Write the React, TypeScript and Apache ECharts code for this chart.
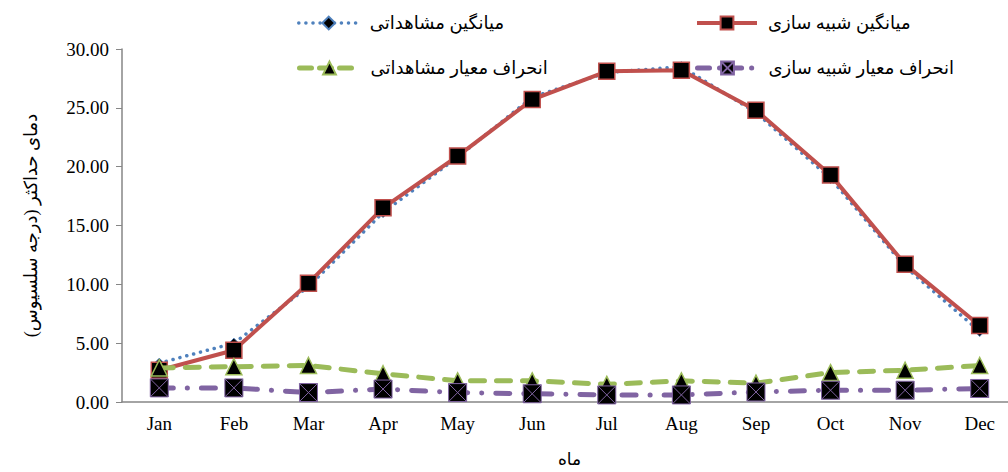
import React, { useEffect, useRef } from "react";
import * as echarts from "echarts";

const months = ["Jan", "Feb", "Mar", "Apr", "May", "Jun", "Jul", "Aug", "Sep", "Oct", "Nov", "Dec"];
const observedMean = [3.3, 5.0, 9.8, 16.1, 20.8, 25.9, 28.0, 28.5, 24.6, 19.0, 11.5, 6.0];
const simulatedMean = [2.7, 4.4, 10.1, 16.5, 20.9, 25.7, 28.1, 28.2, 24.8, 19.3, 11.7, 6.5];
const observedSD = [2.9, 3.0, 3.1, 2.4, 1.8, 1.8, 1.5, 1.8, 1.6, 2.5, 2.7, 3.1];
const simulatedSD = [1.2, 1.2, 0.8, 1.1, 0.8, 0.7, 0.6, 0.6, 0.85, 1.0, 1.0, 1.15];

const nameObsMean = "میانگین مشاهداتی";
const nameSimMean = "میانگین شبیه سازی";
const nameObsSD = "انحراف معیار مشاهداتی";
const nameSimSD = "انحراف معیار شبیه سازی";

const FONT = "'Liberation Serif', 'DejaVu Sans', serif";

export default function App() {
  const ref = useRef<HTMLDivElement>(null);
  useEffect(() => {
    if (!ref.current) return;
    const chart = echarts.init(ref.current, undefined, { renderer: "svg" });
    const boxX = "path://M0 0H10V10H0Z M0 0L10 10 M10 0L0 10";
    const legendBase = {
      orient: "horizontal",
      itemWidth: 60,
      itemHeight: 16,
      textStyle: { fontFamily: FONT, fontSize: 18, color: "#000", padding: [0, 0, 0, 6] },
    };
    const blueLine = { color: "#4F81BD", width: 3.5, type: [0.1, 7], cap: "round" };
    const redLine = { color: "#C0504D", width: 4 };
    const greenLine = { color: "#9BBB59", width: 5, type: [14, 12], cap: "round" };
    const purpleLine = { color: "#8064A2", width: 5, type: [14, 14, 0.1, 14], cap: "round" };
    chart.setOption({
      animation: false,
      textStyle: { fontFamily: FONT },
      legend: [
        { ...legendBase, left: 292, top: 9, data: [{ name: nameObsMean, lineStyle: { ...blueLine, type: [0.1, 7] } }] },
        { ...legendBase, left: 690, top: 9, data: [{ name: nameSimMean, lineStyle: redLine }] },
        { ...legendBase, left: 292, top: 54, data: [{ name: nameObsSD, lineStyle: { ...greenLine, type: [12, 8] } }] },
        { ...legendBase, left: 690, top: 54, data: [{ name: nameSimSD, lineStyle: { ...purpleLine, type: [12, 10, 0.1, 10] } }] },
      ],
      grid: { left: 122, top: 49, bottom: 70, right: -9, containLabel: false, outerBoundsMode: "none" },
      xAxis: {
        type: "category",
        data: months,
        boundaryGap: true,
        name: "ماه",
        nameLocation: "middle",
        nameGap: 49,
        nameTextStyle: { fontFamily: FONT, fontSize: 17, color: "#000" },
        axisLine: { lineStyle: { color: "#868686", width: 1.5 } },
        axisTick: { show: false },
        axisLabel: { fontFamily: FONT, fontSize: 19, color: "#000", margin: 12 },
        splitLine: { show: false },
      },
      yAxis: {
        type: "value",
        min: 0,
        max: 30,
        interval: 5,
        name: "دمای حداکثر (درجه سلسیوس)",
        nameLocation: "middle",
        nameRotate: 90,
        nameGap: 82,
        nameTextStyle: { fontFamily: FONT, fontSize: 18, color: "#000" },
        axisLine: { show: true, lineStyle: { color: "#868686", width: 1.5 } },
        axisTick: { show: true, length: 6, lineStyle: { color: "#868686" } },
        axisLabel: {
          fontFamily: FONT,
          fontSize: 19,
          color: "#000",
          margin: 13,
          formatter: (v: number) => v.toFixed(2),
        },
        splitLine: { show: false },
      },
      series: [
        {
          name: nameObsMean,
          type: "line",
          data: observedMean,
          symbol: "diamond",
          symbolSize: 10,
          itemStyle: { color: "#000", borderColor: "#4F81BD", borderWidth: 1 },
          lineStyle: blueLine,
          z: 2,
        },
        {
          name: nameSimMean,
          type: "line",
          data: simulatedMean,
          symbol: "rect",
          symbolSize: 16,
          itemStyle: { color: "#000", borderColor: "#C0504D", borderWidth: 1.5 },
          lineStyle: redLine,
          z: 3,
        },
        {
          name: nameObsSD,
          type: "line",
          data: observedSD,
          symbol: "triangle",
          symbolSize: 16,
          itemStyle: { color: "#000", borderColor: "#9BBB59", borderWidth: 1.5 },
          lineStyle: greenLine,
          z: 4,
        },
        {
          name: nameSimSD,
          type: "line",
          data: simulatedSD,
          symbol: boxX,
          symbolSize: 18,
          symbolKeepAspect: true,
          itemStyle: { color: "#000", borderColor: "#8064A2", borderWidth: 1 },
          lineStyle: purpleLine,
          z: 5,
        },
      ],
    });
    return () => chart.dispose();
  }, []);
  return <div ref={ref} style={{ width: 1008, height: 472, position: "absolute", left: 0, top: 0 }} />;
}
